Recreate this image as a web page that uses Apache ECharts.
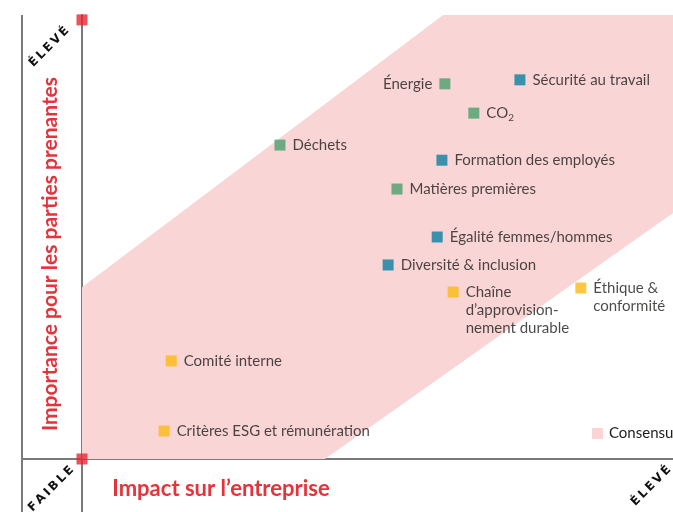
<!DOCTYPE html>
<html>
<head>
<meta charset="utf-8">
<script src="https://cdn.jsdelivr.net/npm/echarts@6/dist/echarts.min.js"></script>
<style>
html,body{margin:0;padding:0;background:#fff;}
#chart{width:673px;height:512px;}
</style>
</head>
<body>
<div id="chart"></div>
<script>
// Consensus band vertices (impact, importance) on a 0-10 scale
const bandX = [0, 0, 4.11, 10, 10, 6.11];
const bandY = [3.87, 0, 0, 5.54, 10, 10];

// Environment (green)
const envNames = ['Énergie', 'CO₂', 'Déchets', 'Matières premières'];
const envX = [6.14, 6.63, 3.35, 5.33];
const envY = [8.45, 7.79, 7.07, 6.08];

// Social (blue)
const socNames = ['Sécurité au travail', 'Formation des employés', 'Égalité femmes/hommes', 'Diversité & inclusion'];
const socX = [7.41, 6.09, 6.01, 5.18];
const socY = [8.54, 6.73, 5.00, 4.37];

// Governance (yellow)
const govNames = ['Chaîne\nd’approvision-\nnement durable', 'Éthique &\nconformité', 'Comité interne', 'Critères ESG et rémunération'];
const govX = [6.28, 8.44, 1.51, 1.39];
const govY = [3.76, 3.85, 2.21, 0.63];

// Axis end markers
const endX = [0, 0];
const endY = [0, 9.89];

const xTitle = 'Impact sur l’entreprise';
const yTitle = 'Importance pour les parties prenantes';
const lowLabel = 'F\u2009A\u2009I\u2009B\u2009L\u2009E';
const highLabel = 'É\u2009L\u2009E\u2009V\u2009É';

const TXT = '#1d1d1b';
const FONT = 'Lato, "Open Sans", sans-serif';

function pts(names, xs, ys) {
  return names.map((n, i) => {
    const item = { name: n, value: [xs[i], ys[i]] };
    if (n === 'Énergie') item.label = { position: 'left' };
    if (n.indexOf('approvision') >= 0) item.label = { offset: [0, 18] };
    if (n.indexOf('Éthique') === 0) item.label = { offset: [0, 9] };
    if (n === 'CO₂') item.label = { formatter: 'CO{sub|2}' };
    return item;
  });
}

const labelBase = {
  show: true,
  position: 'right',
  distance: 7,
  color: TXT,
  fontFamily: FONT,
  fontSize: 15,
  lineHeight: 18,
  formatter: '{b}',
  rich: { sub: { fontSize: 10, fontFamily: FONT, color: TXT, padding: [10, 0, 0, 0] } }
};

const chart = echarts.init(document.getElementById('chart'));
chart.setOption({
  animation: false,
  grid: { left: 82, right: 0, top: 15, bottom: 53 },
  xAxis: {
    type: 'value', min: 0, max: 10,
    axisLine: { show: true, lineStyle: { color: '#7a7a7a', width: 2 } },
    axisTick: { show: false }, axisLabel: { show: false }, splitLine: { show: false }
  },
  yAxis: {
    type: 'value', min: 0, max: 10,
    axisLine: { show: true, lineStyle: { color: '#7a7a7a', width: 2 } },
    axisTick: { show: false }, axisLabel: { show: false }, splitLine: { show: false }
  },
  legend: {
    data: ['Consensus'],
    left: 587, top: 421,
    icon: 'rect', itemWidth: 11, itemHeight: 11,
    textStyle: { color: TXT, fontFamily: FONT, fontSize: 15, padding: [0, 0, 0, 1] }
  },
  series: [
    {
      type: 'custom', name: 'Consensus', z: 1, clip: false,
      itemStyle: { color: '#f9d5d5' },
      data: bandX.map((x, i) => [x, bandY[i]]),
      renderItem: function (params, api) {
        if (params.dataIndex !== 0) return null;
        const p = bandX.map((x, i) => api.coord([x, bandY[i]]));
        return { type: 'polygon', shape: { points: p }, style: { fill: '#f9d5d5' } };
      }
    },
    {
      type: 'scatter', name: 'Environnement', symbol: 'rect', symbolSize: 11, z: 3,
      itemStyle: { color: '#4a9e6b' }, label: labelBase,
      data: pts(envNames, envX, envY)
    },
    {
      type: 'scatter', name: 'Social', symbol: 'rect', symbolSize: 11, z: 3,
      itemStyle: { color: '#0a7fa0' }, label: labelBase,
      data: pts(socNames, socX, socY)
    },
    {
      type: 'scatter', name: 'Gouvernance', symbol: 'rect', symbolSize: 11, z: 3,
      itemStyle: { color: '#fdb913' }, label: labelBase,
      data: pts(govNames, govX, govY)
    },
    {
      type: 'scatter', name: 'Axes', symbol: 'rect', symbolSize: 11, z: 5, clip: false,
      itemStyle: { color: '#e8262f' },
      data: endX.map((x, i) => [x, endY[i]])
    }
  ],
  graphic: [
    { type: 'line', shape: { x1: 22, y1: 15, x2: 22, y2: 512 }, style: { stroke: '#7a7a7a', lineWidth: 2 }, z: 2 },
    { type: 'line', shape: { x1: 82, y1: 459, x2: 82, y2: 512 }, style: { stroke: '#7a7a7a', lineWidth: 2 }, z: 2 },
    { type: 'line', shape: { x1: 22, y1: 459, x2: 82, y2: 459 }, style: { stroke: '#7a7a7a', lineWidth: 2 }, z: 2 },
    { type: 'text', x: 221, y: 489, z: 5,
      style: { text: xTitle, fill: '#e5323b', font: 'bold 22px ' + FONT, textAlign: 'center', textVerticalAlign: 'middle' } },
    { type: 'text', x: 50, y: 254, rotation: Math.PI / 2, z: 5,
      style: { text: yTitle, fill: '#e5323b', font: 'bold 21px ' + FONT, textAlign: 'center', textVerticalAlign: 'middle' } },
    { type: 'text', x: 49, y: 47, rotation: Math.PI / 4, z: 5,
      style: { text: highLabel, fill: '#111', font: 'bold 12px "DejaVu Sans", sans-serif', textAlign: 'center', textVerticalAlign: 'middle' } },
    { type: 'text', x: 51, y: 489, rotation: Math.PI / 4, z: 5,
      style: { text: lowLabel, fill: '#111', font: 'bold 12px "DejaVu Sans", sans-serif', textAlign: 'center', textVerticalAlign: 'middle' } },
    { type: 'text', x: 651, y: 486, rotation: Math.PI / 4, z: 5,
      style: { text: highLabel, fill: '#111', font: 'bold 12px "DejaVu Sans", sans-serif', textAlign: 'center', textVerticalAlign: 'middle' } }
  ]
});
</script>
</body>
</html>
